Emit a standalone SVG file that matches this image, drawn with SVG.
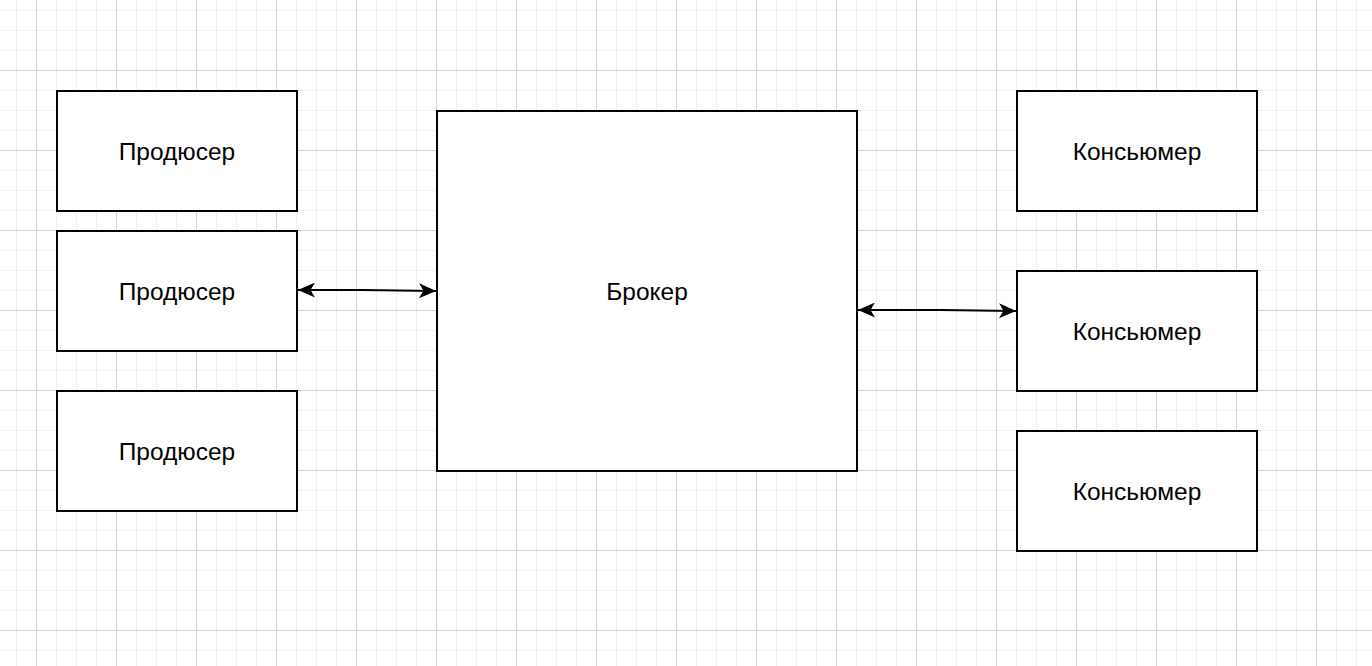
<svg xmlns="http://www.w3.org/2000/svg" width="1372" height="666" viewBox="0 0 1372 666">
<defs>
<pattern id="minor" x="16" y="10" width="20" height="20" patternUnits="userSpaceOnUse">
<path d="M0.5,0 V20 M0,0.5 H20" stroke="#efefef" stroke-width="1" fill="none"/>
</pattern>
<pattern id="major" x="36" y="70" width="80" height="80" patternUnits="userSpaceOnUse">
<path d="M0.5,0 V80 M0,0.5 H80" stroke="#d3d3d3" stroke-width="1" fill="none"/>
</pattern>
<marker id="arr" viewBox="0 0 17 15" refX="17" refY="7.5" markerWidth="17" markerHeight="15" markerUnits="userSpaceOnUse" orient="auto-start-reverse">
<path d="M0,0 L17,7.5 L0,15 L4.5,7.5 Z" fill="#000"/>
</marker>
</defs>
<style>
.box{fill:#fff;stroke:#000;stroke-width:2}
.lbl{font-family:"Liberation Sans",Arial,sans-serif;font-size:24.5px;fill:#000;text-anchor:middle;dominant-baseline:central}
.con{fill:none;stroke:#000;stroke-width:2}
</style>
<rect width="1372" height="666" fill="#fff"/>
<rect width="1372" height="666" fill="url(#minor)"/>
<rect width="1372" height="666" fill="url(#major)"/>
<g id="producer1"><rect class="box" x="57" y="91" width="240" height="120"/><text class="lbl" x="177" y="151">Продюсер</text></g>
<g id="producer2"><rect class="box" x="57" y="231" width="240" height="120"/><text class="lbl" x="177" y="291">Продюсер</text></g>
<g id="producer3"><rect class="box" x="57" y="391" width="240" height="120"/><text class="lbl" x="177" y="451">Продюсер</text></g>
<g id="broker"><rect class="box" x="437" y="111" width="420" height="360"/><text class="lbl" x="647" y="291">Брокер</text></g>
<g id="consumer1"><rect class="box" x="1017" y="91" width="240" height="120"/><text class="lbl" x="1137" y="151">Консьюмер</text></g>
<g id="consumer2"><rect class="box" x="1017" y="271" width="240" height="120"/><text class="lbl" x="1137" y="331">Консьюмер</text></g>
<g id="consumer3"><rect class="box" x="1017" y="431" width="240" height="120"/><text class="lbl" x="1137" y="491">Консьюмер</text></g>
<g id="connectors">
<path class="con" d="M298,290 L362,290 L436,291" marker-start="url(#arr)" marker-end="url(#arr)"/>
<path class="con" d="M858,310 L940,310 L1016,311" marker-start="url(#arr)" marker-end="url(#arr)"/>
</g>
</svg>
